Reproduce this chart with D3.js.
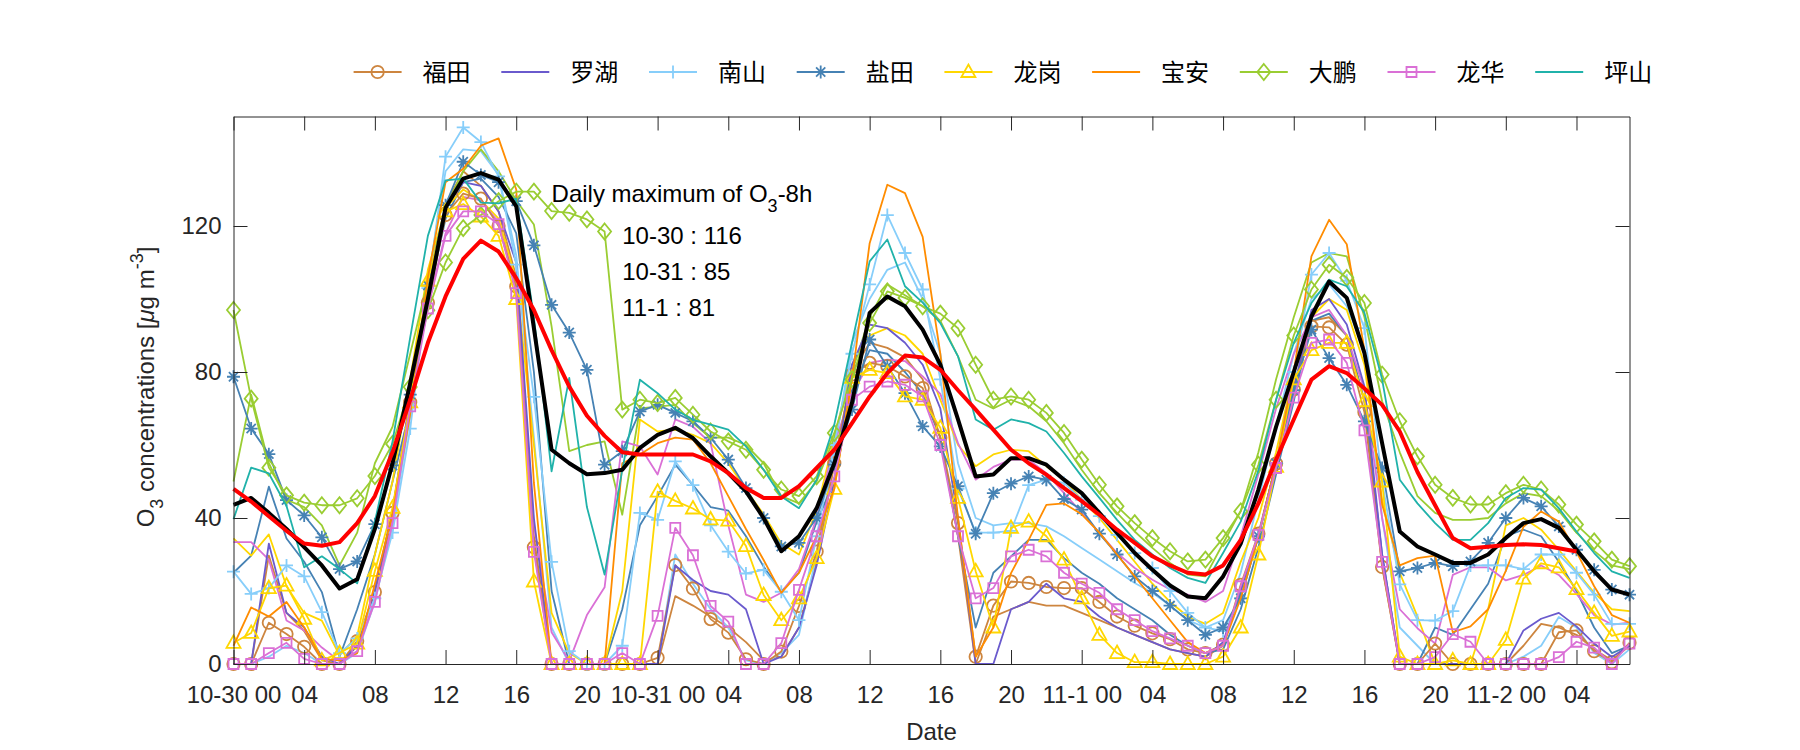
<!DOCTYPE html>
<html><head><meta charset="utf-8">
<script src="https://cdn.jsdelivr.net/npm/d3@7"></script>
<style>
body{margin:0;background:#fff;}
svg{display:block;background:#fff;}
</style>
</head><body>
<svg id="chart" width="1800" height="750"></svg>
<script>
// ---------- DATA (hourly O3, 10-30 00:00 .. 11-2 07:00) ----------
const hourIndex = d3.range(0, 80);
const xTickHours = [0,4,8,12,16,20,24,28,32,36,40,44,48,52,56,60,64,68,72,76];
const xTickLabels = ["10-30 00","04","08","12","16","20","10-31 00","04","08","12","16","20","11-1 00","04","08","12","16","20","11-2 00","04"];
const yTickValues = [0,40,80,120];

const stationNames = ["福田","罗湖","南山","盐田","龙岗","宝安","大鹏","龙华","坪山"];

const futian = [0,0,11.3,8.2,4.7,0,0,6.3,19.7,41.4,
71.7,99,123,128.9,127.5,120,103.4,32,0,0,
0,0,0,0,1.7,27.1,20.7,12.3,8.6,1.3,
0,3.4,15.9,30.8,55,79.3,82.5,81.6,78.8,75.6,
62,38.6,2,16,22.6,22.2,21.1,20.8,20.8,17,
13,10.5,8.4,6.8,4,3,5.3,21.7,35.7,54.9,
75.2,92.5,92.2,87.5,69,26.6,0,0,5.6,0,
0,0,0,0,0,8.7,9.2,3.5,0.5,5.8];

const luohu = [0,0,33,14,10,2,0,5,20,42,
73,100,125,132,131,124,110,40,0,0,
0,0,0,0,0,27,23,20,19,15,
0,2,10,27,50,82,93,92,88,82,
70,40,0,0,15,17,22,18,17,13,
10,8,6,4,3,2,6,20,35,55,
75,97,100,93,76,30,0,0,0,0,
0,0,0,9.2,12.4,14,10.3,5.6,1.9,5];

const nanshan = [25.3,19.2,20.8,27,24,14.2,3,7,18,36,
64.5,103,139,147,143,133.6,109.4,73.2,28,3.5,
0,0,5,41.4,39.5,55.5,49,38,30.8,24.8,
25.8,19.8,12,35,60,85,104,123,112.6,102.6,
78,48,36,36,36.5,49,50.5,49.6,45,40.5,
35.4,30.4,26.3,20,14,10,9,18,35,55,
80,106.7,112.6,105,92,50,21.8,12,11.9,14.5,
27,27,27,26,30,30,25,19,11,11];

const yantian = [78.7,64.5,57.5,44.9,40.7,34.7,26,28.1,38.3,54.4,
73.8,103.7,125.7,137.6,134,132,126.8,114.7,98.4,90.8,
80.6,54.6,58.3,69.2,71,68.8,66.5,62,56,48.2,
40,32.2,33.2,40,54.6,69.7,88.9,81.6,74.2,65.1,
59.6,48.7,35.7,46.8,49.4,51.4,50.5,45.2,42.3,35.7,
30,24,20,16,12,8,10,18,35,55,
75,91.6,83.8,76.5,66.5,53.7,25.4,26.3,27.7,26.8,
28.1,33.2,40,45.5,43.2,37.7,31.3,25.8,20.4,19];

const longgang = [5.8,8.5,20.8,21.5,12.4,1,3,5.6,25.5,42.8,
71.7,105,124,126,122.6,117.3,100,22.6,0,0,
0,0,0,0,47.2,44.7,42.6,39.6,39.3,32.3,
18.9,12,18,29,48,78.4,80.6,79.7,73.3,72.4,
64.7,45.5,25.4,10,37.3,39,35,28.6,18,8,
3,0.5,0.5,0,0,0,2,10,30,54,
78,86,88,88,72,50,2,0,0,1,
0,0,6.6,23.4,27.6,26.5,20.5,14,7.7,8.9];

const baoan = [5,15.5,13,17,10,1.4,1,3,22,41,
68.5,106,132,135.7,142,144,130,49.6,0,0,
0,0,55,57.4,60.5,62,61.5,55,46,37,
28.5,19.5,25,35,48,78,115.3,131.3,129,117,
85,40,2,10,24.9,34,43.6,44,41,36,
30,24,18,12,6,3,5,18,35,55,
80,111.7,121.7,115,86,43.7,27,29,29.7,8.7,
10.3,15,25.5,37.6,41.8,39,30.7,21.3,13.4,11.3];

const dapeng = [97,72.7,53.8,46.2,44.2,43.5,43.5,45.4,51.5,60.3,
75.9,96.9,110,119.4,123,126.8,129.4,129.4,124.1,123.6,
121.8,118.5,69.7,72.4,71.5,72.9,68.3,63.7,61,58.7,
53.2,47.8,46,51.4,63.3,78,93.4,102.1,100.3,98,
96,92,82,72.4,73.3,72.4,68.8,63.3,56,49.1,
43.2,38.6,34.5,30.9,28.1,28.6,34.5,41.8,54.6,72.4,
90,102.6,109.4,105.8,98.9,79.3,66.5,56.9,49.1,45.5,
43.7,43.7,46.8,49.1,47.8,43.7,38.2,33.6,28.6,26.8];

const longhua = [0,0,3,5.8,1.4,0,0,3.5,17,38.6,
70.6,97.4,117.3,124,124,120.5,101.6,30.7,0,0,
0,0,3,0,13.2,37.3,29.8,15.9,11.6,0,
0,5.7,20.3,35,51.4,72.4,76,77.4,76.5,73.3,
60,35,18,20.8,29.5,31.3,29.5,25,22,19.5,
15,12,9,7,5,3,5,21.3,35.4,53.7,
73,88,88.9,82.5,64,28,0,0,1.9,8.2,
6.1,0,0,0,0,1.9,6.1,4.5,0,5.6];

const pingshan = [39.7,53.8,52.2,43.3,26.5,29.5,26,22.1,39,61,
89.5,117.3,132.5,133,126.4,126.2,127.5,95,52.8,78.4,
43,24.5,53.2,77.9,74.2,69.7,66.9,65.6,64.2,59.6,
53.2,45.9,42.7,50.5,65.6,88,110.3,116.3,103.5,99,
93.4,84.3,67,64.2,67,66,63.7,57.8,51.4,45.5,
39.5,34,30,26.3,23.6,22.2,30.4,39,53,72.4,
88,98.9,105.3,103.5,96.2,78,50.5,44,38.6,34,
34,38.6,45.5,48.2,47.8,42.7,36.3,30.4,25.4,23.6];

// unlabeled companion lines (same colours, no markers)
const futianB = [0,0,29.7,14,9,1,0,5,20,42,
72,100,126,135,131,124,106,35,0,0,
0,0,0,0,0,18.6,16,13,10,6,
1,2,10,28,55,80,88,86.6,84,78,
62,35,0,13,15,17,16,16,14,12,
10,8,6,4,3,2,5,20,35,55,
76,94,95,90,72,27,0,0,0,0,
0,0,0,5,11,10,8,4,1,5];

const nanshanB = [0,0,2,5,3,0,0,3,17,38,
68,105,135,141,140.5,134,112,62,10,0,
0,0,0,0,0,30,22,15,10,1,
0,3,8,30,58,88,100,108,110,100,
85,55,40,38,38.6,38.6,37.7,35,31.8,28.6,
25.4,22.2,19.5,16,12,10,12,25,45,65,
85,100,104,98,86,40,10,5,0,0,
0,0,0,2,5,12.9,10,3,0,4];

const yantianB = [25,29.7,48.6,34.4,28,19.7,2,15,30,50,
70,100,122,132,133,128,118,80,20,0,
0,0,15,38,46,54.6,49,43,42,35,
26.7,19.8,25,39,50,75,86,85,80,74,
62,35,10,25,29.5,34,34,29,25,22,
18,15,12,8,5,3,4,15,32,52,
72,94,96,90,72,30,0,0,10,8,
15,22,35,36.8,35,28,20,10,3,5];

const longgangB = [34.4,29.7,35.5,21.3,14,11.9,2.4,7.7,30,50,
78,108,125,130,127,122,105,60,14,3,
0,0,20,67,63.7,64.2,62.8,60.5,55,47.8,
41,33,30,42,62,82,90,92,90,85,
72.4,60,54.2,57.4,58.7,58.3,54.2,50.5,45,40,
34,28,22,17,13,11,14,28,40,58,
80,95,100,97,82,45,25,13,0,0,
0,15,38,40,36.8,31.3,25.4,19.5,15,14.5];

const dapengB = [50,73.8,55,45,43,38,27,36,55,65,
85,105,125,135,141,135,127,120.4,92.5,58.3,
60,61,40.9,70,70.5,71,66,62,62,60,
55,46,44,50,62,80,95,104,101,98,
94,84.3,72.4,70,72.4,70.6,66.5,60.5,53.2,46.8,
41.4,36.3,31.8,27.7,24.5,24,33,42,58,78,
95,110,112.6,111.7,95,72,58,46,41.4,39.5,
39.5,40,44,46.8,46,42,36,31,27,26];

const longhuaB = [33.4,33.4,28.6,11.9,9.2,4.5,0.8,3.5,18,40,
72,98,118,128,127,121,103,38,8.7,0.8,
13.4,21,61,59.6,51.9,67,65,60.5,38,19,
17,19.5,26,40,60.5,74,82.5,83.4,83,78.8,
74,60.5,50.5,54,56,56,52.3,46.8,41.4,35.9,
30.4,26.3,23.1,20.4,19,17,20,35,52,70,
85,95,97,90,75,40,15,9.8,5.6,24.4,
26.5,26.5,22.9,24.4,27,24.4,19.2,13.4,10.8,11.3];

// city mean (black) and 8-h running mean (red)
const meanO3 = [43.6,45.5,41.4,37,32,27,20.7,23.2,37,55,
77,100,125,133,134.5,132.7,125.4,92,58.7,55,
52,52.3,53.2,59.2,62.8,64.7,61.9,56.9,52.3,47.3,
40,30.9,35,42.7,55,71.5,96.2,100.7,98,91.6,
82,67,51.4,51.9,56.4,56.4,54.6,50.5,46.8,41.4,
35.9,30.4,25.8,21.5,18.5,18,24,33,47.8,65,
80,95.2,104.8,100.3,85.2,60.5,36.3,32.2,30,27.7,
27.7,30,34.5,38.6,39.7,37.3,31.3,25.4,20.4,19];

const o3_8h = [48,44.5,40.5,36.5,33,32.4,33.4,38.6,46,58,
72.4,88,100.7,111,116,113,105.7,97,86,76,
68,62.5,58,57.4,57.4,57.4,57.4,55.5,52.3,48.2,
45.5,45.5,48.7,53.7,58.7,66,73.3,79.7,84.5,84,
80.6,75,69.7,64.2,58.7,55,51.9,48.2,44.6,40.9,
36.8,33.2,29.5,27,25,24.5,27,34,44,56,
67,77.9,81.6,79.7,75.5,71,63.7,52.6,43.5,34.5,
31.7,32.1,32.6,32.8,32.6,31.7,30.8,null,null,null];

const annotationTitle = "Daily maximum of O";
const annotationLines = ["10-30 : 116","10-31 : 85","11-1 : 81"];

// ---------- STYLE ----------
const stationSeries = [
  {name:"福田", values:futian,   color:"#CD853F", marker:"circle"},
  {name:"罗湖", values:luohu,    color:"#6A5ACD", marker:"none"},
  {name:"南山", values:nanshan,  color:"#87CEFA", marker:"plus"},
  {name:"盐田", values:yantian,  color:"#4682B4", marker:"asterisk"},
  {name:"龙岗", values:longgang, color:"#FFD700", marker:"triangle"},
  {name:"宝安", values:baoan,    color:"#FF8C00", marker:"none"},
  {name:"大鹏", values:dapeng,   color:"#9ACD32", marker:"diamond"},
  {name:"龙华", values:longhua,  color:"#DA70D6", marker:"square"},
  {name:"坪山", values:pingshan, color:"#20B2AA", marker:"none"}
];
const companionSeries = [
  {values:futianB,   color:"#CD853F"},
  {values:nanshanB,  color:"#87CEFA"},
  {values:yantianB,  color:"#4682B4"},
  {values:longgangB, color:"#FFD700"},
  {values:dapengB,   color:"#9ACD32"},
  {values:longhuaB,  color:"#DA70D6"}
];

const FONT = "'Liberation Sans', Arial, sans-serif";
const CJK = "'Noto Sans CJK SC', sans-serif";
const AX = "#262626";

const svg = d3.select("#chart");
const pL = 233.5, pR = 1629.5, pT = 116.5, pB = 664;
const x = d3.scaleLinear().domain([0,79]).range([pL,pR]);
const y = d3.scaleLinear().domain([0,150]).range([pB,pT]);

const markerPaths = {
  plus: "M-6.5,0H6.5M0,-6.5V6.5",
  asterisk: "M-6.5,0H6.5M0,-6.5V6.5M-4.6,-4.6L4.6,4.6M-4.6,4.6L4.6,-4.6",
  triangle: "M0,-7.5L7,5H-7Z",
  diamond: "M0,-8L6.5,0L0,8L-6.5,0Z",
  square: "M-5,-5H5V5H-5Z"
};
function drawMarker(g, type, cx, cy, color){
  if (type === "none") return;
  if (type === "circle") {
    g.append("circle").attr("cx",cx).attr("cy",cy).attr("r",6.2)
      .attr("fill","none").attr("stroke",color).attr("stroke-width",1.8);
  } else {
    g.append("path").attr("d",markerPaths[type]).attr("transform",`translate(${cx},${cy})`)
      .attr("fill","none").attr("stroke",color).attr("stroke-width",1.8).attr("stroke-linejoin","miter");
  }
}

const lineGen = d3.line().defined(d => d[1] != null).x(d => x(d[0])).y(d => y(d[1]));
const pts = arr => arr.map((v,i) => [hourIndex[i], v]);

const plot = svg.append("g");
companionSeries.forEach(s => {
  plot.append("path").attr("d", lineGen(pts(s.values))).attr("fill","none")
    .attr("stroke", s.color).attr("stroke-width",1.8).attr("stroke-linejoin","round");
});
stationSeries.forEach(s => {
  plot.append("path").attr("d", lineGen(pts(s.values))).attr("fill","none")
    .attr("stroke", s.color).attr("stroke-width",1.8).attr("stroke-linejoin","round");
  const mg = plot.append("g");
  pts(s.values).forEach(p => { if (p[1] != null) drawMarker(mg, s.marker, x(p[0]), y(p[1]), s.color); });
});
plot.append("path").attr("d", lineGen(pts(meanO3))).attr("fill","none")
  .attr("stroke","#000").attr("stroke-width",4).attr("stroke-linejoin","round");
plot.append("path").attr("d", lineGen(pts(o3_8h))).attr("fill","none")
  .attr("stroke","#FF0000").attr("stroke-width",4).attr("stroke-linejoin","round");

// ---------- AXES ----------
function styleAxis(g){
  g.attr("font-size",24).attr("font-family",FONT).attr("color",AX);
  g.selectAll("path.domain").attr("stroke",AX).attr("stroke-width",1);
  g.selectAll(".tick line").attr("stroke",AX).attr("stroke-width",1);
}
svg.append("g").attr("transform",`translate(0,${pB})`)
  .call(d3.axisBottom(x).tickValues(xTickHours).tickFormat((d,i)=>xTickLabels[i])
        .tickSizeInner(-14).tickSizeOuter(0).tickPadding(22)).call(styleAxis);
svg.append("g").attr("transform",`translate(0,${pT})`)
  .call(d3.axisTop(x).tickValues(xTickHours).tickFormat("")
        .tickSizeInner(-14).tickSizeOuter(0)).call(styleAxis);
svg.append("g").attr("transform",`translate(${pL},0)`)
  .call(d3.axisLeft(y).tickValues(yTickValues).tickSizeInner(-14).tickSizeOuter(0).tickPadding(12))
  .call(styleAxis);
svg.append("g").attr("transform",`translate(${pR},0)`)
  .call(d3.axisRight(y).tickValues(yTickValues).tickFormat("").tickSizeInner(-14).tickSizeOuter(0))
  .call(styleAxis);

// axis labels
svg.append("text").attr("x",(pL+pR)/2).attr("y",740).attr("text-anchor","middle")
  .attr("font-family",FONT).attr("font-size",24).attr("fill",AX).text("Date");

const yl = svg.append("text").attr("transform","translate(153.5,387) rotate(-90)")
  .attr("text-anchor","middle").attr("font-family",FONT).attr("font-size",24).attr("fill",AX);
yl.append("tspan").text("O");
yl.append("tspan").attr("font-size",18).attr("dy",9).text("3");
yl.append("tspan").attr("dy",-9).text(" concentrations [");
yl.append("tspan").attr("font-style","italic").text("\u03BC");
yl.append("tspan").text("g m");
yl.append("tspan").attr("font-size",18).attr("dy",-11).text("-3");
yl.append("tspan").attr("dy",11).text("]");

// annotation
const an = svg.append("text").attr("x",x(18)).attr("y",202).attr("font-family",FONT)
  .attr("font-size",24).attr("fill","#000");
an.append("tspan").text(annotationTitle);
an.append("tspan").attr("font-size",18).attr("dy",10).text("3");
an.append("tspan").attr("dy",-10).text("-8h");
annotationLines.forEach((t,i) => {
  svg.append("text").attr("x",x(22)).attr("y",244 + i*36).attr("font-family",FONT)
    .attr("font-size",24).attr("fill","#000").text(t);
});

// legend
const lg = svg.append("g");
stationSeries.forEach((s,i) => {
  const lx = 353.6 + i*147.7, ly = 72;
  lg.append("line").attr("x1",lx).attr("x2",lx+48).attr("y1",ly).attr("y2",ly)
    .attr("stroke",s.color).attr("stroke-width",1.8);
  drawMarker(lg, s.marker, lx+24, ly, s.color);
  lg.append("text").attr("x",lx+69).attr("y",ly+9).attr("font-family",CJK)
    .attr("font-size",24).attr("fill","#000").text(s.name);
});
</script>
</body></html>
